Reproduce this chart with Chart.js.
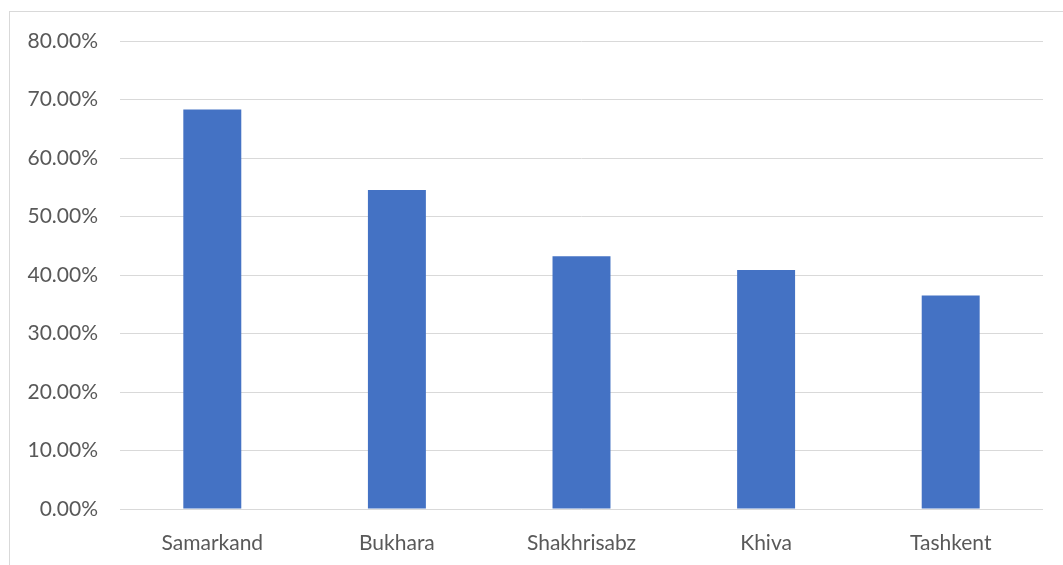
<!DOCTYPE html>
<html lang="en">
<head>
    <meta charset="UTF-8">
    <title>Share by city</title>
    <script src="https://cdn.jsdelivr.net/npm/chart.js"></script>
    <style>
        body {
            margin: 0;
            background: #fff;
        }
        .frame {
            position: absolute;
            left: 9px;
            top: 11px;
            width: 1100px;
            height: 600px;
            border: 1px solid #d9d9d9;
        }
        #myChart {
            position: absolute;
            left: 0;
            top: 0;
        }
    </style>
</head>
<body>
    <div class="frame"></div>
    <canvas id="myChart" width="1063" height="565"></canvas>

    <script>
        let cities = ['Samarkand', 'Bukhara', 'Shakhrisabz', 'Khiva', 'Tashkent'];
        let shares = [68.3, 54.55, 43.2, 40.85, 36.5];
        let yTicks = [0, 10, 20, 30, 40, 50, 60, 70, 80];

        const ctx = document.getElementById('myChart').getContext('2d');
        let myChart = new Chart(ctx, {
            type: 'bar',
            data: {
                labels: cities,
                datasets: [{
                    data: shares,
                    backgroundColor: '#4472C4',
                    categoryPercentage: 1,
                    barPercentage: 0.314
                }]
            },
            options: {
                responsive: false,
                animation: false,
                layout: {
                    padding: { left: 0, top: 41, right: 20, bottom: 0 }
                },
                plugins: {
                    legend: { display: false },
                    tooltip: { enabled: false }
                },
                scales: {
                    x: {
                        grid: { display: false, drawTicks: false },
                        border: { display: false },
                        ticks: {
                            color: '#595959',
                            font: { family: 'Lato', size: 21 },
                            padding: 22,
                            maxRotation: 0
                        },
                        afterFit: function (scale) { scale.height = 56; }
                    },
                    y: {
                        min: 0,
                        max: 80,
                        afterBuildTicks: function (scale) {
                            scale.ticks = yTicks.map(v => ({ value: v }));
                        },
                        grid: { color: '#d9d9d9', lineWidth: 1, drawTicks: false },
                        border: { display: false },
                        ticks: {
                            color: '#595959',
                            font: { family: 'Lato', size: 21 },
                            padding: 22,
                            callback: v => v.toFixed(2) + '%'
                        },
                        afterFit: function (scale) { scale.width = 120; }
                    }
                }
            }
        });
    </script>
</body>
</html>
